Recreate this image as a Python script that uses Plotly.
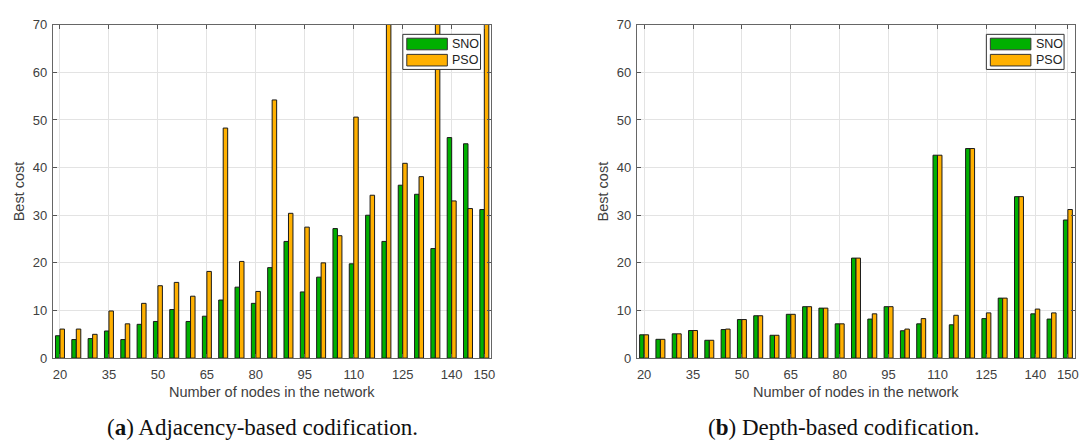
import plotly.graph_objects as go

# Network sizes (number of nodes)
nodes = [20, 25, 30, 35, 40, 45, 50, 55, 60, 65, 70, 75, 80, 85,
         90, 95, 100, 105, 110, 115, 120, 125, 130, 135, 140, 145, 150]

# (a) Adjacency-based codification: best cost per algorithm
adj_sno = [4.7, 3.9, 4.1, 5.7, 3.9, 7.1, 7.7, 10.2, 7.7, 8.8, 12.2, 14.9, 11.5, 19.0,
           24.5, 13.9, 17.0, 27.2, 19.8, 30.0, 24.5, 36.3, 34.4, 23.0, 46.3, 45.0, 31.2]
adj_pso = [6.1, 6.1, 5.0, 9.9, 7.2, 11.5, 15.2, 15.9, 13.0, 18.2, 48.3, 20.3, 14.0, 54.2,
           30.4, 27.5, 20.0, 25.7, 50.6, 34.2, 88.0, 40.9, 38.1, 96.0, 33.0, 31.4, 104.0]

# (b) Depth-based codification: best cost per algorithm
dep_sno = [4.9, 3.95, 5.1, 5.8, 3.75, 6.0, 8.1, 8.9, 4.8, 9.2, 10.8, 10.5, 7.2, 21.0,
           8.2, 10.8, 5.75, 7.2, 42.6, 7.0, 44.0, 8.3, 12.6, 33.9, 9.3, 8.2, 29.0]
dep_pso = [4.9, 3.95, 5.1, 5.8, 3.75, 6.1, 8.1, 8.9, 4.8, 9.2, 10.8, 10.5, 7.2, 21.0,
           9.3, 10.8, 6.1, 8.3, 42.6, 9.0, 44.0, 9.5, 12.6, 33.9, 10.3, 9.5, 31.2]

x_ticks = [20, 35, 50, 65, 80, 95, 110, 125, 140, 150]
y_ticks = [0, 10, 20, 30, 40, 50, 60, 70]

series_names = ["SNO", "PSO"]
colors = ["#00b000", "#ffb000"]
captions = ["(<b>a</b>) Adjacency-based codification.",
            "(<b>b</b>) Depth-based codification."]

W, H = 1085, 448
SANS = "Liberation Sans, Arial, sans-serif"
SERIF = "Liberation Serif, Times New Roman, serif"
TXT = "#404040"


def px(x):
    return x / W


def py(y):
    return 1 - y / H


# Panel frames in pixels: (left, right); shared top/bottom
panels = [(53, 493), (639.3, 1078.7)]
top, bottom = 18.3, 363.3

fig = go.Figure()

data = [(adj_sno, adj_pso), (dep_sno, dep_pso)]
for i, (sno, pso) in enumerate(data):
    xa = "x" if i == 0 else "x2"
    ya = "y" if i == 0 else "y2"
    for name, vals, col in zip(series_names, (sno, pso), colors):
        fig.add_trace(go.Bar(
            x=nodes, y=vals, name=name, xaxis=xa, yaxis=ya,
            marker=dict(color=col, line=dict(color="#1a1a1a", width=1)),
            offsetgroup=name, showlegend=False,
        ))

axis_common = dict(
    showline=True, linecolor="#666666", linewidth=1, mirror="ticks",
    ticks="inside", ticklen=4, tickcolor="#555555",
    showgrid=True, gridcolor="#e3e3e3", gridwidth=1, zeroline=False,
    tickfont=dict(family=SANS, size=13, color=TXT),
)

layout = dict(
    width=W, height=H, margin=dict(l=0, r=0, t=0, b=0),
    paper_bgcolor="white", plot_bgcolor="white",
    barmode="group", bargap=0.45, bargroupgap=0.0,
    showlegend=False,
)
for i, (l, r) in enumerate(panels):
    sx = "" if i == 0 else "2"
    layout["xaxis" + sx] = dict(
        axis_common, domain=[px(l), px(r)], range=[17.8, 152.1],
        tickvals=x_ticks, anchor="y" + sx, ticklabelstandoff=4,
    )
    layout["yaxis" + sx] = dict(
        axis_common, domain=[py(bottom), py(top)], range=[0, 70],
        tickvals=y_ticks, anchor="x" + sx, ticklabelstandoff=2,
    )
fig.update_layout(**layout)

annotations = []
shapes = []
for i, (l, r) in enumerate(panels):
    cx = (l + r) / 2
    # axis titles
    annotations.append(dict(
        x=px(cx), y=py(398), xref="paper", yref="paper", text="Number of nodes in the network",
        showarrow=False, font=dict(family=SANS, size=14.5, color=TXT),
        xanchor="center", yanchor="middle"))
    annotations.append(dict(
        x=px(l - 34), y=py((top + bottom) / 2), xref="paper", yref="paper", text="Best cost",
        textangle=-90, showarrow=False, font=dict(family=SANS, size=14.5, color=TXT),
        xanchor="center", yanchor="middle"))
    # subfigure caption
    cap_x = [263, 847][i]
    annotations.append(dict(
        x=px(cap_x), y=py(435), xref="paper", yref="paper", text=captions[i],
        showarrow=False, font=dict(family=SERIF, size=23, color="#111111"),
        xanchor="center", yanchor="middle"))

    # legend box in the upper-right corner of each panel
    bx0, bx1 = r - 88.7, r - 10.7
    by0, by1 = 28.3, 64.6
    shapes.append(dict(type="rect", xref="paper", yref="paper",
                       x0=px(bx0), x1=px(bx1), y0=py(by1), y1=py(by0),
                       fillcolor="white", line=dict(color="#333333", width=1), layer="above"))
    for k, (name, col) in enumerate(zip(series_names, colors)):
        sy0 = 32.3 + k * 16.7
        sy1 = sy0 + 12
        shapes.append(dict(type="rect", xref="paper", yref="paper",
                           x0=px(bx0 + 4), x1=px(bx0 + 44.7), y0=py(sy1), y1=py(sy0),
                           fillcolor=col, line=dict(color="#333333", width=1), layer="above"))
        annotations.append(dict(
            x=px(bx0 + 47.5), y=py((sy0 + sy1) / 2), xref="paper", yref="paper", text=name,
            showarrow=False, font=dict(family=SANS, size=12.5, color="#222222"),
            xanchor="left", yanchor="middle"))

fig.update_layout(annotations=annotations, shapes=shapes)
fig.write_html("out.html")
